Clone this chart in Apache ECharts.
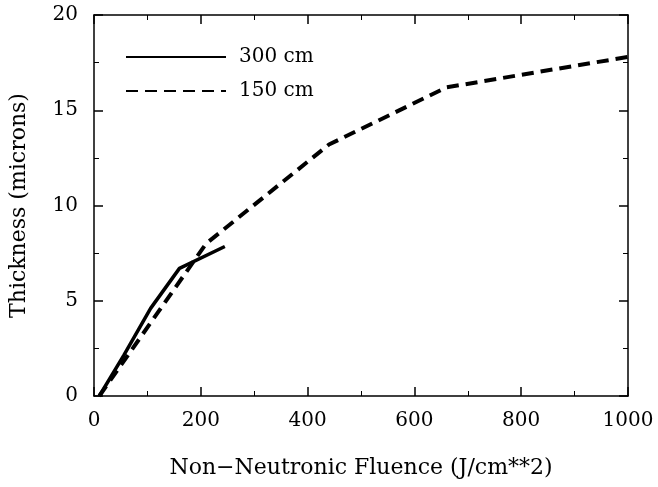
<!DOCTYPE html>
<html><head><meta charset="utf-8">
<script src="https://cdn.jsdelivr.net/npm/echarts@6/dist/echarts.min.js"></script>
<style>html,body{margin:0;padding:0;background:#fff}#c{width:658px;height:487px}</style>
</head><body><div id="c"></div>
<script>
const series300Name = '300 cm';
const series150Name = '150 cm';
const fluence300 = [10, 56, 106, 160, 245];
const thick300 = [0, 2.15, 4.6, 6.7, 7.85];
const fluence150 = [10, 120, 210, 440, 660, 1000];
const thick150 = [0, 4.4, 8.0, 13.2, 16.2, 17.8];
const xTicks = [0, 200, 400, 600, 800, 1000];
const yTicks = [0, 5, 10, 15, 20];

const font = 'DejaVu Serif';
const chart = echarts.init(document.getElementById('c'), null, {renderer: 'canvas'});
const axisBase = {
  axisLine: {show: true, onZero: false, lineStyle: {color: '#000', width: 1.5}},
  axisTick: {show: true, inside: true, length: 9, lineStyle: {color: '#000', width: 1.5}},
  minorTick: {show: true, splitNumber: 2, length: 5, lineStyle: {color: '#000', width: 1}},
  splitLine: {show: false}
};
chart.setOption({
  backgroundColor: '#fff',
  animation: false,
  grid: {left: 93, right: 30, top: 15, bottom: 91},
  legend: {
    left: 120, top: 42, orient: 'vertical', itemWidth: 100, itemHeight: 14, itemGap: 14,
    itemStyle: {opacity: 0},
    textStyle: {fontFamily: font, fontSize: 20, color: '#000', padding: [0, 0, 0, 8]},
    data: [series300Name, series150Name]
  },
  xAxis: [
    Object.assign({}, axisBase, {
      type: 'value', min: 0, max: 1000, interval: 200, position: 'bottom',
      name: 'Non\u2212Neutronic Fluence (J/cm**2)', nameLocation: 'middle', nameGap: 61,
      nameTextStyle: {fontFamily: font, fontSize: 22, color: '#000'},
      axisLabel: {fontFamily: font, fontSize: 20, color: '#000', margin: 15,
        formatter: v => xTicks.includes(v) ? String(v) : ''}
    }),
    Object.assign({}, axisBase, {
      type: 'value', min: 0, max: 1000, interval: 200, position: 'top', axisLabel: {show: false}
    })
  ],
  yAxis: [
    Object.assign({}, axisBase, {
      type: 'value', min: 0, max: 20, interval: 5, position: 'left',
      name: 'Thickness (microns)', nameLocation: 'middle', nameGap: 64,
      nameTextStyle: {fontFamily: font, fontSize: 22, color: '#000'},
      axisLabel: {fontFamily: font, fontSize: 20, color: '#000', margin: 16,
        formatter: v => yTicks.includes(v) ? String(v) : ''}
    }),
    Object.assign({}, axisBase, {
      type: 'value', min: 0, max: 20, interval: 5, position: 'right', axisLabel: {show: false}
    })
  ],
  series: [
    {
      name: series300Name, type: 'line', symbol: 'none', xAxisIndex: 0, yAxisIndex: 0,
      data: fluence300.map((x, i) => [x, thick300[i]]),
      lineStyle: {color: '#000', width: 3.5, type: 'solid'}, itemStyle: {color: '#000'}
    },
    {
      name: series150Name, type: 'line', symbol: 'none', xAxisIndex: 0, yAxisIndex: 0,
      data: fluence150.map((x, i) => [x, thick150[i]]),
      lineStyle: {color: '#000', width: 4, type: [12, 7]}, itemStyle: {color: '#000'}
    }
  ]
});
</script></body></html>
